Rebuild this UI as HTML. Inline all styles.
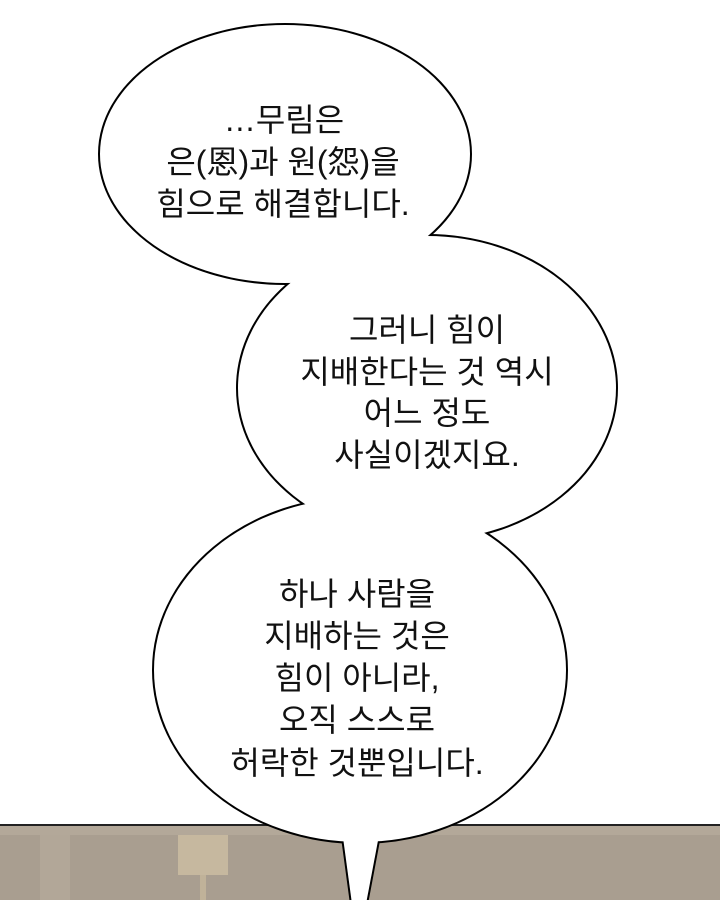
<!DOCTYPE html>
<html><head><meta charset="utf-8"><style>
html,body{margin:0;padding:0;background:#fff;}
svg{display:block}
text{font-family:"Liberation Sans","Noto Sans CJK KR",sans-serif;font-size:32px;fill:#111;text-anchor:middle;}
</style></head><body>
<svg width="720" height="900" viewBox="0 0 720 900" xmlns="http://www.w3.org/2000/svg">
<rect x="0" y="825" width="720" height="75" fill="#a99e90"/>
<rect x="0" y="825" width="720" height="10" fill="#b3a899"/>
<rect x="40" y="835" width="30" height="65" fill="#b2a798"/>
<rect x="178" y="835" width="50" height="40" fill="#c6b89f"/>
<rect x="200" y="875" width="6" height="25" fill="#c0b299"/>
<line x1="0" y1="825" x2="720" y2="825" stroke="#222" stroke-width="2"/>
<g stroke="#000" stroke-width="4" fill="#fff">
<ellipse cx="285" cy="154" rx="185" ry="129"/>
<ellipse cx="427" cy="388" rx="189" ry="152"/>
<ellipse cx="360" cy="670" rx="206" ry="172"/>
<polygon points="342,830 352,904 366,904 380,830"/>
</g>
<g fill="#fff">
<ellipse cx="285" cy="154" rx="185" ry="129"/>
<ellipse cx="427" cy="388" rx="189" ry="152"/>
<ellipse cx="360" cy="670" rx="206" ry="172"/>
<polygon points="342,830 352,904 366,904 380,830"/>
</g>
<text x="284" y="131">…무림은</text>
<text x="283" y="173">은(恩)과 원(怨)을</text>
<text x="283" y="215">힘으로 해결합니다.</text>
<text x="427" y="341">그러니 힘이</text>
<text x="427" y="383">지배한다는 것 역시</text>
<text x="427" y="424">어느 정도</text>
<text x="427" y="466">사실이겠지요.</text>
<text x="357" y="605">하나 사람을</text>
<text x="357" y="647">지배하는 것은</text>
<text x="357" y="689">힘이 아니라,</text>
<text x="357" y="731">오직 스스로</text>
<text x="357" y="774">허락한 것뿐입니다.</text>
</svg>
</body></html>
